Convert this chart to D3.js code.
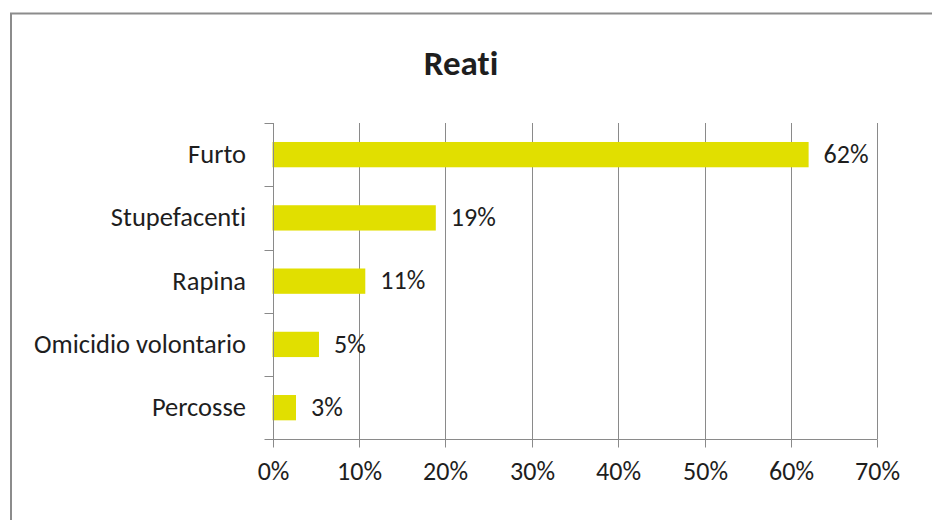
<!DOCTYPE html>
<html>
<head>
<meta charset="utf-8">
<script src="https://cdn.jsdelivr.net/npm/d3@7"></script>
<style>
  html, body { margin: 0; padding: 0; background: #ffffff; }
  svg { display: block; }
  text { font-family: Carlito, Calibri, Lato, "Open Sans", sans-serif; fill: #1e1e1e; font-variant-ligatures: none; font-feature-settings: "liga" 0, "clig" 0; }
</style>
</head>
<body>
<svg id="chart" width="932" height="520"></svg>
<script>
const title = "Reati";
const categories = ["Furto", "Stupefacenti", "Rapina", "Omicidio volontario", "Percosse"];
const values = [0.6205, 0.189, 0.1074, 0.0538, 0.0272];
const valueLabels = ["62%", "19%", "11%", "5%", "3%"];
const xTicks = [0, 0.1, 0.2, 0.3, 0.4, 0.5, 0.6, 0.7];

const svg = d3.select("#chart");
const W = 932, H = 520;
const gridColor = "#8a8a8a";
const barColor = "#e1df00";

// outer chart border (right and bottom fall outside the window)
svg.append("rect")
  .attr("x", 11).attr("y", 13.5)
  .attr("width", W + 20).attr("height", H + 20)
  .attr("fill", "none").attr("stroke", "#8c8c8c").attr("stroke-width", 2);

const plot = { left: 272.5, right: 877.3, top: 123, bottom: 439.3 };

const x = d3.scaleLinear().domain([0, 0.7]).range([plot.left, plot.right]);
const y = d3.scaleBand().domain(categories).range([plot.top, plot.bottom]).paddingInner(0.6).paddingOuter(0.3);
const yOuter = d3.scaleBand().domain(categories).range([plot.top, plot.bottom]);

// title
svg.append("text")
  .attr("x", 461).attr("y", 74.5)
  .attr("text-anchor", "middle")
  .style("font-size", "35px").style("font-weight", "bold")
  .text(title);

// vertical gridlines
svg.append("g").selectAll("line")
  .data(xTicks.slice(1))
  .join("line")
  .attr("x1", d => Math.round(x(d)) + 0.5).attr("x2", d => Math.round(x(d)) + 0.5)
  .attr("y1", plot.top).attr("y2", plot.bottom)
  .attr("stroke", gridColor).attr("stroke-width", 1);

// bars
svg.append("g").selectAll("rect")
  .data(categories)
  .join("rect")
  .attr("x", x(0))
  .attr("y", d => y(d))
  .attr("width", (d, i) => x(values[i]) - x(0))
  .attr("height", y.bandwidth())
  .attr("fill", barColor);

// x axis
const xAxis = d3.axisBottom(x)
  .tickValues(xTicks)
  .tickFormat(d3.format(".0%"))
  .tickSize(8)
  .tickPadding(14);
const gx = svg.append("g")
  .attr("transform", `translate(0,${Math.round(plot.bottom) + 0.5})`)
  .call(xAxis);
gx.attr("font-family", null).attr("font-size", null);
gx.select(".domain").attr("stroke", gridColor).attr("d", `M${plot.left},0H${plot.right}`);
gx.selectAll(".tick line").attr("stroke", gridColor);
gx.selectAll(".tick text")
  .style("font-size", "26px").style("fill", "#1e1e1e");
gx.selectAll(".tick").attr("transform", d => `translate(${Math.round(x(d)) + 0.5},0)`);

// y axis line and ticks at band boundaries
const axisX = Math.round(plot.left) + 0.5;
svg.append("line")
  .attr("x1", axisX).attr("x2", axisX)
  .attr("y1", plot.top).attr("y2", plot.bottom)
  .attr("stroke", gridColor);
const boundaries = categories.map(c => yOuter(c)).concat([plot.bottom]);
svg.append("g").selectAll("line")
  .data(boundaries)
  .join("line")
  .attr("x1", axisX - 9).attr("x2", axisX)
  .attr("y1", d => Math.round(d) + 0.5).attr("y2", d => Math.round(d) + 0.5)
  .attr("stroke", gridColor);

// category labels
svg.append("g").selectAll("text")
  .data(categories)
  .join("text")
  .attr("x", 246)
  .attr("y", d => yOuter(d) + yOuter.bandwidth() / 2)
  .attr("dy", "0.32em")
  .attr("text-anchor", "end")
  .style("font-size", "26.5px")
  .text(d => d);

// value labels
svg.append("g").selectAll("text")
  .data(categories)
  .join("text")
  .attr("x", (d, i) => x(values[i]) + 15)
  .attr("y", d => y(d) + y.bandwidth() / 2)
  .attr("dy", "0.32em")
  .style("font-size", "26px")
  .text((d, i) => valueLabels[i]);
</script>
</body>
</html>
